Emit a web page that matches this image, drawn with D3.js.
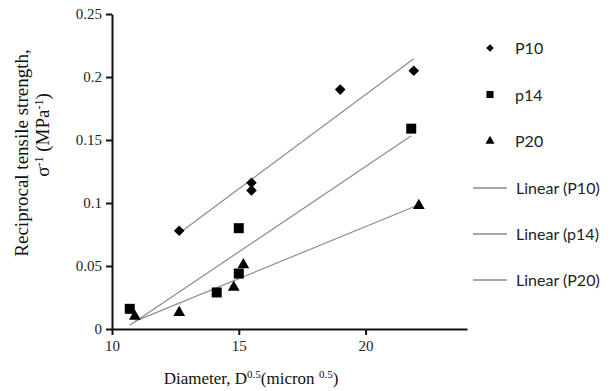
<!DOCTYPE html>
<html>
<head>
<meta charset="utf-8">
<script src="https://cdn.jsdelivr.net/npm/d3@7"></script>
<style>
  body { margin: 0; background: #fff; }
  .tick text { font-family: "Liberation Serif", "Times New Roman", serif; font-size: 15px; fill: #222; }
</style>
</head>
<body>
<script>
// data
var seriesNames = ["P10", "p14", "P20"];
var p10X = [12.65, 15.5, 15.5, 19.0, 21.9];
var p10Y = [0.078, 0.116, 0.110, 0.190, 0.205];
var p14X = [10.7, 14.13, 15.0, 15.0, 21.8];
var p14Y = [0.016, 0.029, 0.080, 0.044, 0.159];
var p20X = [10.9, 12.65, 14.8, 15.18, 22.1];
var p20Y = [0.010, 0.013, 0.033, 0.051, 0.098];
var xTicks = [10, 15, 20];
var yTicks = [0, 0.05, 0.1, 0.15, 0.2, 0.25];

var svgWidth = 615, svgHeight = 391;
var margin = {top: 14, left: 112, right: 148, bottom: 62};
var width = svgWidth - margin.left - margin.right;
var height = svgHeight - margin.top - margin.bottom;

var svg = d3.select("body").append("svg")
  .attr("width", svgWidth)
  .attr("height", svgHeight);

var chartGroup = svg.append("g")
  .attr("transform", "translate(" + margin.left + "," + margin.top + ")");

var xScale = d3.scaleLinear().domain([10, 24]).range([0, width]);
var yScale = d3.scaleLinear().domain([0, 0.25]).range([height, 0]);

// axes
var xAxis = chartGroup.append("g")
  .attr("transform", "translate(0," + height + ")")
  .call(d3.axisBottom(xScale).tickValues(xTicks).tickSize(6).tickSizeOuter(0).tickPadding(5));
var yAxis = chartGroup.append("g")
  .call(d3.axisLeft(yScale).tickValues(yTicks).tickSize(6).tickSizeOuter(0).tickPadding(4)
    .tickFormat(function(d){ return String(d); }));
[xAxis, yAxis].forEach(function(a){
  a.select(".domain").attr("stroke", "#111").attr("stroke-width", 2);
  a.selectAll(".tick line").attr("stroke", "#111").attr("stroke-width", 2);
});

// trend lines (least squares, like the spreadsheet's linear fit)
function fit(xs, ys) {
  var mx = d3.mean(xs), my = d3.mean(ys);
  var sxy = d3.sum(xs, function(x, i){ return (x - mx) * (ys[i] - my); });
  var sxx = d3.sum(xs, function(x){ return (x - mx) * (x - mx); });
  var b = sxy / sxx, a = my - b * mx;
  var x0 = d3.min(xs), x1 = d3.max(xs);
  return [[x0, a + b * x0], [x1, a + b * x1]];
}

var series = [
  {name: seriesNames[0], xs: p10X, ys: p10Y, sym: d3.symbolDiamond2, size: 72, lsize: 36},
  {name: seriesNames[1], xs: p14X, ys: p14Y, sym: d3.symbolSquare, size: 100, lsize: 50},
  {name: seriesNames[2], xs: p20X, ys: p20Y, sym: d3.symbolTriangle, size: 60, lsize: 36}
];

var line = d3.line().x(function(d){ return xScale(d[0]); }).y(function(d){ return yScale(d[1]); });

series.forEach(function(s){
  chartGroup.append("path")
    .attr("d", line(fit(s.xs, s.ys)))
    .attr("fill", "none")
    .attr("stroke", "#8c8c8c")
    .attr("stroke-width", 1.2);
});

series.forEach(function(s){
  chartGroup.selectAll(null)
    .data(s.xs)
    .enter()
    .append("path")
    .attr("d", d3.symbol().type(s.sym).size(s.size))
    .attr("transform", function(d, i){ return "translate(" + xScale(d) + "," + yScale(s.ys[i]) + ")"; })
    .attr("fill", "#000");
});

// legend
var legend = svg.append("g").attr("transform", "translate(490,0)");
var legendFont = "Lato, 'Open Sans', sans-serif";
series.forEach(function(s, i){
  var y = 48 + i * 46.5;
  legend.append("path")
    .attr("d", d3.symbol().type(s.sym).size(s.lsize))
    .attr("transform", "translate(0," + y + ")")
    .attr("fill", "#000");
  legend.append("text")
    .attr("x", 25).attr("y", y + 6)
    .attr("font-family", legendFont).attr("font-size", "16px").attr("fill", "#222")
    .text(s.name);
});
series.forEach(function(s, i){
  var y = 188 + i * 46;
  legend.append("line")
    .attr("x1", -17).attr("x2", 17).attr("y1", y).attr("y2", y)
    .attr("stroke", "#8c8c8c").attr("stroke-width", 1.5);
  legend.append("text")
    .attr("x", 26).attr("y", y + 6)
    .attr("font-family", legendFont).attr("font-size", "16px").attr("fill", "#222")
    .text("Linear (" + s.name + ")");
});

// axis titles
var serif = "'Liberation Serif', 'Times New Roman', serif";
var xTitle = svg.append("text")
  .attr("x", 251).attr("y", 384)
  .attr("text-anchor", "middle")
  .attr("font-family", serif).attr("font-size", "17px").attr("fill", "#111");
xTitle.append("tspan").text("Diameter, D");
xTitle.append("tspan").attr("dy", -6).attr("font-size", "11px").text("0.5");
xTitle.append("tspan").attr("dy", 6).text("(micron ");
xTitle.append("tspan").attr("dy", -6).attr("font-size", "11px").text("0.5");
xTitle.append("tspan").attr("dy", 6).text(")");

svg.append("text")
  .attr("transform", "translate(28,153) rotate(-90)")
  .attr("text-anchor", "middle")
  .attr("font-family", serif).attr("font-size", "19px").attr("fill", "#111")
  .text("Reciprocal tensile strength,");

var yTitle2 = svg.append("text")
  .attr("transform", "translate(49,135) rotate(-90)")
  .attr("text-anchor", "middle")
  .attr("font-family", serif).attr("font-size", "19px").attr("fill", "#111");
yTitle2.append("tspan").text("σ");
yTitle2.append("tspan").attr("dy", -6).attr("font-size", "12px").text("-1");
yTitle2.append("tspan").attr("dy", 6).text(" (MPa");
yTitle2.append("tspan").attr("dy", -6).attr("font-size", "12px").text("-1");
yTitle2.append("tspan").attr("dy", 6).text(")");
</script>
</body>
</html>
